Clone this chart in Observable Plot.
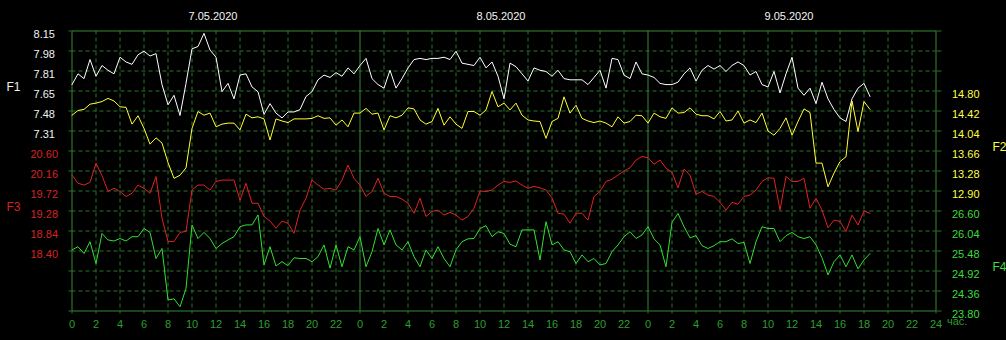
<!DOCTYPE html>
<html><head><meta charset="utf-8">
<script src="https://cdn.jsdelivr.net/npm/d3@7"></script>
<script src="https://cdn.jsdelivr.net/npm/@observablehq/plot@0.6"></script>
<style>
html,body{margin:0;padding:0;background:#000;}
#chart{width:1006px;height:340px;overflow:hidden;}
</style></head><body><div id="chart"></div>
<script>
// ---- data ----
const dayLabels = ["7.05.2020", "8.05.2020", "9.05.2020"];
const hourTickLabels = ["0","2","4","6","8","10","12","14","16","18","20","22"];
const endTickLabel = "24";
const unitLabel = "час.";
const sampleStepHours = 0.5;

const f1TickLabels = ["8.15","7.98","7.81","7.65","7.48","7.31"];
const f2TickLabels = ["14.80","14.42","14.04","13.66","13.28","12.90"];
const f3TickLabels = ["20.60","20.16","19.72","19.28","18.84","18.40"];
const f4TickLabels = ["26.60","26.04","25.48","24.92","24.36","23.80"];

const f1Values = [
 7.70,7.79,7.75,7.91,7.77,7.86,7.82,7.79,7.93,7.89,7.87,7.95,7.98,7.94,7.96,7.70,7.53,7.61,7.44,7.71,8.00,8.02,8.13,7.99,
 7.93,7.64,7.71,7.58,7.78,7.79,7.68,7.64,7.45,7.54,7.46,7.42,7.47,7.47,7.49,7.60,7.64,7.74,7.78,7.76,7.80,7.77,7.84,7.79,
 7.86,7.92,7.75,7.70,7.67,7.82,7.67,7.75,7.84,7.91,7.92,7.91,7.92,7.92,7.93,7.91,7.98,7.88,7.87,7.86,7.93,7.84,7.89,7.77,
 7.58,7.88,7.85,7.79,7.73,7.84,7.82,7.81,7.77,7.82,7.75,7.74,7.74,7.74,7.70,7.76,7.82,7.67,7.92,7.91,7.78,7.75,7.89,7.79,
 7.78,7.76,7.71,7.70,7.70,7.72,7.79,7.84,7.73,7.82,7.86,7.83,7.86,7.81,7.86,7.89,7.86,7.78,7.81,7.70,7.68,7.81,7.63,7.79,
 7.93,7.67,7.61,7.67,7.54,7.72,7.58,7.49,7.42,7.39,7.58,7.67,7.71,7.60
];
const f2Values = [
 14.34,14.43,14.45,14.55,14.57,14.60,14.66,14.61,14.50,14.49,14.17,14.33,14.09,13.79,13.91,13.81,13.44,13.14,13.20,13.34,14.09,14.41,14.34,14.38,
 14.12,14.17,14.19,14.19,14.06,14.36,14.29,14.31,14.27,13.87,14.27,14.23,14.20,14.27,14.27,14.27,14.28,14.33,14.28,14.29,14.15,14.25,14.12,14.38,
 14.38,14.47,14.36,14.38,14.06,14.33,14.29,14.34,14.48,14.46,14.25,14.17,14.22,14.47,14.15,14.31,14.17,14.09,14.41,14.41,14.34,14.44,14.79,14.50,
 14.57,14.44,14.57,14.34,14.25,14.23,14.22,13.90,14.22,14.28,14.69,14.38,14.53,14.28,14.23,14.20,14.23,14.19,14.12,14.31,14.19,14.22,14.34,14.33,
 14.19,14.38,14.31,14.28,14.48,14.38,14.39,14.48,14.36,14.33,14.33,14.27,14.41,14.23,14.25,14.42,14.19,14.25,14.20,14.38,14.04,13.96,14.09,14.29,
 13.96,14.22,14.46,14.39,13.43,13.43,12.98,13.24,13.46,13.55,14.61,14.03,14.60,14.45
];
const f3Values = [
 20.07,19.89,19.85,19.91,20.33,20.06,19.71,19.78,19.71,19.60,19.67,19.85,19.78,19.67,20.04,19.12,18.61,18.61,18.81,18.83,19.74,19.85,19.85,19.74,
 19.93,19.96,19.96,19.96,19.52,19.89,19.45,19.45,19.16,19.06,18.90,19.06,19.01,18.79,19.30,19.56,19.96,19.85,19.76,19.78,19.74,19.96,20.29,20.00,
 19.85,19.60,19.71,20.00,19.67,19.60,19.60,19.54,19.45,19.23,19.56,19.16,19.27,19.30,19.19,19.25,19.19,19.08,19.16,19.34,19.72,19.71,19.74,19.85,
 19.93,19.91,19.94,19.85,19.78,19.82,19.79,19.74,19.57,19.23,19.21,19.01,19.23,19.23,19.08,19.60,19.71,19.93,19.98,20.07,20.16,20.23,20.40,20.48,
 20.45,20.31,20.40,20.22,20.13,19.79,20.20,20.07,19.65,19.71,19.63,19.60,19.47,19.30,19.47,19.43,19.60,19.63,19.74,19.93,20.01,20.00,19.30,20.04,
 19.93,19.93,20.00,19.34,19.56,19.30,18.91,19.08,19.05,18.83,19.19,18.97,19.28,19.23
];
const f4Values = [
 25.51,25.60,25.41,25.74,25.13,25.97,25.79,25.76,25.83,25.76,25.88,25.88,26.11,26.00,25.27,25.55,24.11,24.14,23.92,24.43,26.21,25.83,26.00,25.83,
 25.55,25.69,25.79,25.88,26.16,26.21,26.21,26.49,25.09,25.60,25.06,25.18,25.07,25.29,25.27,25.27,25.18,25.32,25.65,25.00,25.65,25.04,25.60,25.51,
 25.88,25.04,25.46,26.11,25.65,26.07,25.65,25.51,25.74,25.32,25.04,25.51,25.27,25.60,25.27,25.04,25.51,25.74,25.82,25.83,26.11,26.19,25.88,26.02,
 25.97,25.67,25.60,26.07,26.07,26.07,25.23,26.30,25.65,25.74,25.51,25.46,25.13,25.37,25.18,25.27,25.09,25.13,25.46,25.65,25.88,26.02,25.83,25.93,
 26.16,25.82,25.65,25.04,26.28,26.53,26.16,25.85,25.91,25.63,25.55,25.63,25.74,25.74,25.82,25.69,25.72,25.13,25.74,26.16,26.11,26.11,25.74,25.91,
 26.00,25.88,25.83,25.88,25.65,25.29,24.81,25.18,25.37,25.04,25.37,24.98,25.23,25.41
];

// ---- scale setup: each series has its own value band on a shared 14-row grid ----
const ROWS = 14;
const series = [
  {name: "F1", values: f1Values, labels: f1TickLabels, top: 8.15,  step: 0.168, firstRow: 0, color: "#ffffff", labelColor: "#f0f0f0", side: "left",  pad: 17},
  {name: "F2", values: f2Values, labels: f2TickLabels, top: 14.80, step: 0.38,  firstRow: 3, color: "#ffff33", labelColor: "#ffff40", side: "right", pad: 16},
  {name: "F3", values: f3Values, labels: f3TickLabels, top: 20.60, step: 0.44,  firstRow: 6, color: "#e22222", labelColor: "#d82222", side: "left",  pad: 14},
  {name: "F4", values: f4Values, labels: f4TickLabels, top: 26.60, step: 0.56,  firstRow: 9, color: "#33e033", labelColor: "#3ddc3d", side: "right", pad: 16}
];
const toRow = (s, v) => ROWS - (s.firstRow + (s.top - v) / s.step);
const lineData = series.flatMap(s => s.values.map((v, i) => ({name: s.name, hour: i * sampleStepHours, u: toRow(s, v)})));

const xTicks = dayLabels.flatMap((d, i) => hourTickLabels.map(l => ({pos: i * 24 + Number(l), label: l})));
xTicks.push({pos: dayLabels.length * 24, label: endTickLabel});
const xLabelMap = new Map(xTicks.map(t => [t.pos, t.label]));
const xMax = dayLabels.length * 24;
const dashedX = xTicks.map(t => t.pos).filter(p => p % 24 !== 0);
const solidX = xTicks.map(t => t.pos).filter(p => p % 24 === 0 && p > 0 && p < xMax);
const rows = d3.range(0, ROWS + 1);

const GRID = "#2a752a";
const FRAME = "#348a34";
const XTEXT = "#2e9e2e";

const marks = [
  Plot.ruleX(dashedX, {stroke: GRID, strokeDasharray: "4,3"}),
  Plot.ruleY(rows.filter(r => r > 0 && r < ROWS), {stroke: GRID, strokeDasharray: "4,3"}),
  Plot.ruleX(solidX, {stroke: FRAME}),
  Plot.frame({stroke: FRAME}),
  // tick stubs
  Plot.axisX({ticks: xTicks.map(t => t.pos), tickSize: 3, tickFormat: () => "", stroke: GRID, label: null}),
  Plot.axisY({anchor: "left", ticks: rows, tickSize: 3, tickFormat: () => "", stroke: GRID, label: null}),
  Plot.axisY({anchor: "right", ticks: rows, tickSize: 5, tickFormat: () => "", stroke: GRID, label: null}),
  // x labels
  Plot.axisX({ticks: xTicks.map(t => t.pos), tickSize: 0, tickPadding: 9, tickFormat: p => xLabelMap.get(p), fill: XTEXT, label: null}),
  Plot.text([unitLabel], {x: xMax, frameAnchor: "bottom", dy: 14, dx: 11, textAnchor: "start", fill: XTEXT}),
  // day labels
  Plot.text(dayLabels, {x: (d, i) => i * 24 + 12, frameAnchor: "top", dy: -19, dx: -3, fill: "#f4f4f4"})
];
for (const s of series) {
  const ticks = s.labels.map((l, k) => ROWS - (s.firstRow + k));
  const fmt = new Map(s.labels.map((l, k) => [ROWS - (s.firstRow + k), l]));
  marks.push(Plot.axisY({anchor: s.side, ticks, tickSize: 0, tickPadding: s.pad, tickFormat: u => fmt.get(u), fill: s.labelColor, dy: 3, label: null}));
  marks.push(Plot.text([s.name], {
    y: ROWS - (s.firstRow + 2.5), frameAnchor: s.side, textAnchor: "start",
    dx: s.side === "left" ? -65.5 : 56.5, dy: 6.5, fill: s.labelColor, fontSize: 12
  }));
  marks.push(Plot.line(lineData.filter(d => d.name === s.name), {x: "hour", y: "u", stroke: s.color, strokeWidth: 1}));
}

const chart = Plot.plot({
  width: 1006, height: 340,
  marginLeft: 71.5, marginRight: 70.5, marginTop: 30.5, marginBottom: 29.5,
  x: {domain: [0, xMax], axis: null},
  y: {domain: [0, ROWS], axis: null},
  style: {background: "#000", color: "#ddd", fontFamily: "'Liberation Sans', Arial, sans-serif", fontSize: "11px"},
  marks
});
document.getElementById("chart").append(chart);
</script></body></html>
